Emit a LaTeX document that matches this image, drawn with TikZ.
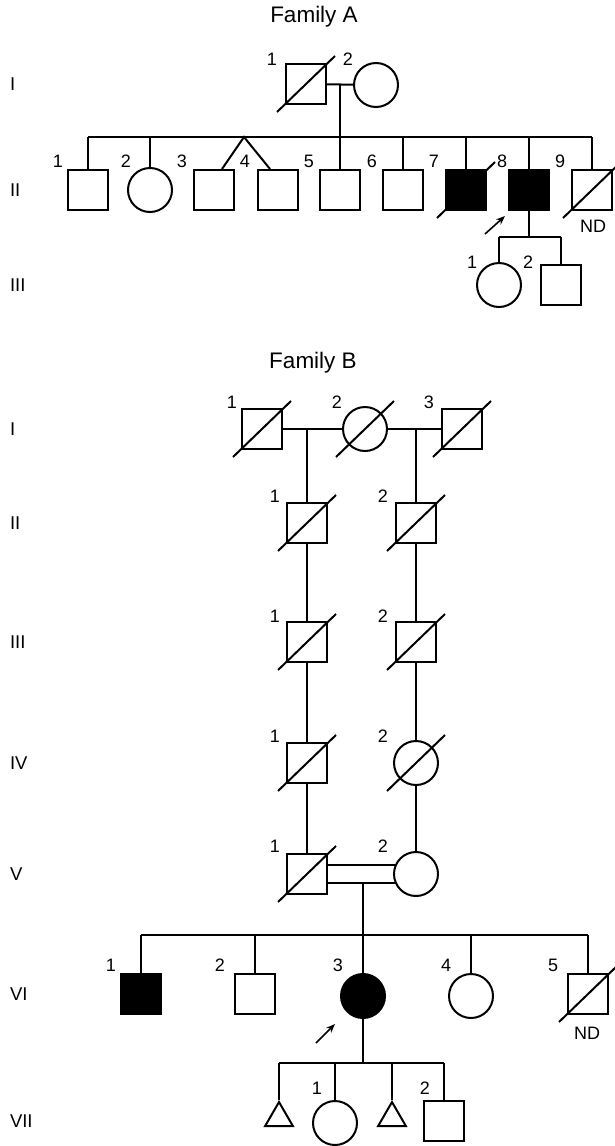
\documentclass[tikz,border=0pt]{standalone}
\usepackage{fontspec}
\setmainfont{Liberation Sans}
\usetikzlibrary{shapes.geometric,arrows.meta,calc}
\begin{document}
\begin{tikzpicture}[x=1pt,y=-1pt,
  line width=2pt,
  male/.style={draw, rectangle, minimum size=40pt, inner sep=0pt},
  female/.style={draw, circle, minimum size=44pt, inner sep=0pt},
  unknown/.style={draw, regular polygon, regular polygon sides=3, minimum size=32pt, inner sep=0pt, anchor=corner 1},
  affected/.style={fill=black},
  idlbl/.style={font=\fontsize{18}{18}\selectfont, inner sep=0pt},
  genlbl/.style={font=\fontsize{18.5}{18.5}\selectfont, inner sep=0pt, anchor=west},
  famtitle/.style={font=\fontsize{22.5}{22.5}\selectfont, inner sep=0pt},
  slash/.style={line width=2pt},
  proband/.style={line width=1.6pt, -{Stealth[length=9pt,width=7pt]}},
]
\useasboundingbox (0,0) rectangle (614,1146);

% ---------------- Family A ----------------
\node[famtitle] (tA) at (314,17) {Family A};
\node[genlbl] (gA1) at (9,84) {I};
\node[genlbl] (gA2) at (9,190) {II};
\node[genlbl] (gA3) at (9,285) {III};

% generation I
\node[male]   (A11) at (306,84) {};
\node[female] (A12) at (376,85) {};
\node[idlbl] (lA11) at (272,59) {1};
\node[idlbl] (lA12) at (348,59) {2};

% generation II
\node[male]   (A21) at (88,190) {};
\node[female] (A22) at (150,190) {};
\node[male]   (A23) at (214,190) {};
\node[male]   (A24) at (278,190) {};
\node[male]   (A25) at (340,190) {};
\node[male]   (A26) at (403,190) {};
\node[male,affected] (A27) at (466,190) {};
\node[male,affected] (A28) at (529,190) {};
\node[male]   (A29) at (592,190) {};
\foreach \x/\t [count=\i] in {58/1,126/2,182/3,245/4,309/5,372/6,434/7,502/8,560/9}
  \node[idlbl] (lA2\i) at (\x,161) {\t};
\node[idlbl] (ndA) at (593,226) {ND};

% generation III
\node[female] (A31) at (499,285) {};
\node[male]   (A32) at (561,285) {};
\node[idlbl] (lA31) at (472,262) {1};
\node[idlbl] (lA32) at (528,262) {2};

% lines of descent
\coordinate (A1m) at (340,85);
\coordinate (A2s) at (340,137);
\coordinate (A3s) at (529,237);
\coordinate (Atw) at (244,137);
\draw (A11) -- (A12);
\draw (A1m) -- (A2s);
\draw (A21 |- A2s) -- (A29 |- A2s);
\foreach \c in {A21,A22,A25,A26,A27,A28,A29}
  \draw (\c |- A2s) -- (\c);
\draw ([xshift=8pt]A23.north) -- (Atw) -- ([xshift=-8pt]A24.north);
\draw (A28) -- (A3s);
\draw (A31 |- A3s) -- (A32 |- A3s);
\draw (A31 |- A3s) -- (A31);
\draw (A32 |- A3s) -- (A32);

% proband
\coordinate (Apa) at (485,234);
\coordinate (Apb) at (505,216);
\draw[proband] (Apa) -- (Apb);

% ---------------- Family B ----------------
\node[famtitle] (tB) at (313,363) {Family B};
\foreach \y/\t [count=\i] in {429/I,523/II,642/III,763/IV,874/V,994/VI,1121/VII}
  \node[genlbl] (gB\i) at (9,\y) {\t};

% generation I
\node[male]   (B11) at (262,429) {};
\node[female] (B12) at (365,429) {};
\node[male]   (B13) at (462,429) {};
\node[idlbl] (lB11) at (232,402) {1};
\node[idlbl] (lB12) at (337,402) {2};
\node[idlbl] (lB13) at (429,402) {3};

% generations II to V
\node[male]   (B21) at (307,523) {};
\node[male]   (B22) at (416,523) {};
\node[male]   (B31) at (307,642) {};
\node[male]   (B32) at (416,642) {};
\node[male]   (B41) at (307,763) {};
\node[female] (B42) at (416,763) {};
\node[male]   (B51) at (307,874) {};
\node[female] (B52) at (416,874) {};
\foreach \g/\y in {2/496,3/616,4/736,5/846} {
  \node[idlbl] (lB\g1) at (275,\y) {1};
  \node[idlbl] (lB\g2) at (383,\y) {2};
}

% generation VI
\node[male,affected]   (B61) at (141,994) {};
\node[male]            (B62) at (255,994) {};
\node[female,affected] (B63) at (363,996) {};
\node[female]          (B64) at (471,996) {};
\node[male]            (B65) at (588,994) {};
\foreach \x [count=\i] in {111,220,338,446,553}
  \node[idlbl] (lB6\i) at (\x,965) {\i};
\node[idlbl] (ndB) at (587,1033) {ND};

% generation VII
\node[unknown] (B71) at (279,1100) {};
\node[female]  (B72) at (335,1123) {};
\node[unknown] (B73) at (392,1100) {};
\node[male]    (B74) at (444,1121) {};
\node[idlbl] (lB71) at (317,1088) {1};
\node[idlbl] (lB72) at (425,1088) {2};

% lines of descent
\draw (B11) -- (B12) -- (B13);
\draw (B11 -| B21) -- (B21) -- (B31) -- (B41) -- (B51);
\draw (B13 -| B22) -- (B22) -- (B32) -- (B42) -- (B52);
% consanguineous union
\draw (B51.east |- B52.157.8) -- (B52.157.8);
\draw (B51.east |- B52.202.2) -- (B52.202.2);
\coordinate (B5m) at (363,882.5);
\coordinate (B6s) at (363,935);
\draw (B5m) -- (B6s);
\draw (B61 |- B6s) -- (B65 |- B6s);
\foreach \c in {B61,B62,B63,B64,B65}
  \draw (\c |- B6s) -- (\c);
\coordinate (B7s) at (363,1063);
\draw (B63) -- (B7s);
\draw (B71 |- B7s) -- (B74 |- B7s);
\draw (B71 |- B7s) -- (B71.corner 1);
\draw (B72 |- B7s) -- (B72);
\draw (B73 |- B7s) -- (B73.corner 1);
\draw (B74 |- B7s) -- (B74);

% proband
\coordinate (Bpa) at (316,1043);
\coordinate (Bpb) at (335,1024);
\draw[proband] (Bpa) -- (Bpb);

% deceased
\foreach \n in {A11,A27,A29,B11,B12,B13,B21,B22,B31,B32,B41,B42,B51,B65}
  \draw[slash] ([shift={(-29,28)}]\n.center) -- ([shift={(29,-28)}]\n.center);
\end{tikzpicture}
\end{document}
